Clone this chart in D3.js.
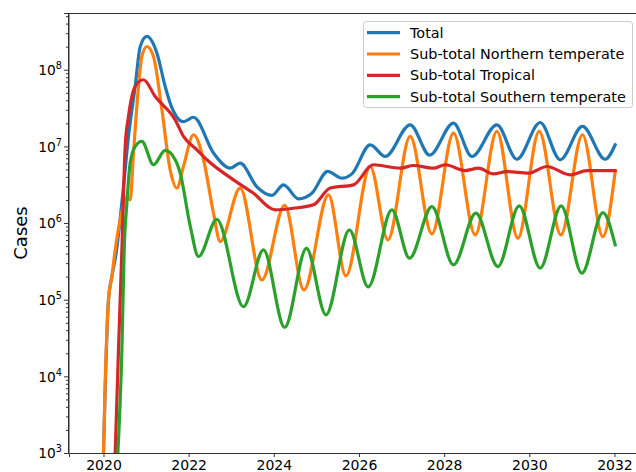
<!DOCTYPE html>
<html><head><meta charset="utf-8">
<script src="https://cdn.jsdelivr.net/npm/d3@7"></script>
<style>
body{margin:0;background:#fff;}
svg{display:block;font-family:"DejaVu Sans",sans-serif;}
</style></head>
<body><svg id="c" width="636" height="472"></svg>
<script>
const seriesNames = ["Total","Sub-total Northern temperate","Sub-total Tropical","Sub-total Southern temperate"];
const seriesColors = ["#1f77b4","#ff7f0e","#d62728","#2ca02c"];
const xTicks = [2020,2022,2024,2026,2028,2030,2032];
const yMajorTicks = [1e3,1e4,1e5,1e6,1e7,1e8];
const yLabel = "Cases";

const total = [[2020.0,1e3],[2020.117,9.9e4],[2020.197,2.0e5],[2020.298,4.08e5],[2020.47,2.99e6],[2020.587,1.35e7],[2020.744,6.05e7],[2020.862,2.0e8],[2021.019,2.72e8],[2021.254,1.65e8],[2021.449,6.05e7],[2021.566,3.67e7],[2021.879,2.1e7],[2022.114,2.4e7],[2022.583,8.2e6],[2022.976,5.2e6],[2023.21,6.05e6],[2023.603,2.97e6],[2023.955,2.3e6],[2024.227,3.15e6],[2024.58,2.07e6],[2024.894,2.45e6],[2025.265,4.73e6],[2025.599,3.85e6],[2025.834,4.38e6],[2026.264,1.05e7],[2026.616,7.4e6],[2027.203,1.91e7],[2027.66,7.7e6],[2028.22,2.01e7],[2028.652,7.4e6],[2029.239,1.91e7],[2029.709,6.8e6],[2030.256,2.05e7],[2030.726,6.7e6],[2031.249,1.82e7],[2031.783,6.8e6],[2032.017,1.05e7]];

const northern = [[2020.0,1e3],[2020.04,8.2e3],[2020.117,9.9e4],[2020.197,2.0e5],[2020.275,4.47e5],[2020.392,1.1e6],[2020.55,2.2e6],[2020.627,2.0e6],[2020.705,8.2e6],[2020.822,6.05e7],[2020.902,1.49e8],[2021.019,2.01e8],[2021.174,1.49e8],[2021.372,3.0e7],[2021.566,4.96e6],[2021.724,2.86e6],[2021.879,5.5e6],[2022.114,1.42e7],[2022.349,6.7e6],[2022.583,1.35e6],[2022.74,5.74e5],[2023.21,2.86e6],[2023.72,1.81e5],[2024.255,1.7e6],[2024.706,1.34e5],[2025.284,2.33e6],[2025.693,2.05e5],[2026.264,5.47e6],[2026.679,6.04e5],[2027.203,1.35e7],[2027.713,7.2e5],[2028.22,1.49e7],[2028.73,7.0e5],[2029.239,1.57e7],[2029.732,6.35e5],[2030.232,1.57e7],[2030.742,7.0e5],[2031.249,1.42e7],[2031.728,6.67e5],[2032.017,4.7e6]];

const tropical = [[2020.275,1e3],[2020.352,2.2e4],[2020.432,4.47e5],[2020.51,1.0e7],[2020.587,2.45e7],[2020.744,6.05e7],[2020.939,7.4e7],[2021.214,4.48e7],[2021.684,2.22e7],[2021.879,1.35e7],[2022.194,9.0e6],[2022.428,6.7e6],[2023.053,3.66e6],[2023.523,2.45e6],[2024.032,1.49e6],[2024.462,1.56e6],[2024.932,1.73e6],[2025.324,2.86e6],[2025.871,3.15e6],[2026.341,5.76e6],[2026.968,5.2e6],[2027.28,5.63e6],[2027.75,5.2e6],[2028.025,5.76e6],[2028.495,4.84e6],[2028.807,5.2e6],[2029.16,4.38e6],[2029.474,4.7e6],[2029.981,4.48e6],[2030.413,5.47e6],[2030.96,4.26e6],[2031.353,4.84e6],[2032.017,4.84e6]];

const southern = [[2020.338,1e3],[2020.432,2.2e4],[2020.486,4.47e5],[2020.55,1.84e6],[2020.627,6.1e6],[2020.744,1.0e7],[2020.902,1.16e7],[2021.174,5.76e6],[2021.449,8.85e6],[2021.684,6.7e6],[2021.801,4.48e6],[2022.036,9.2e5],[2022.231,3.66e5],[2022.663,1.12e6],[2023.288,8.1e4],[2023.757,4.47e5],[2024.255,4.35e4],[2024.767,4.68e5],[2025.225,6.34e4],[2025.775,8.15e5],[2026.217,1.47e5],[2026.773,1.49e6],[2027.187,3.48e5],[2027.713,1.64e6],[2028.22,2.85e5],[2028.746,1.35e6],[2029.262,2.7e5],[2029.763,1.68e6],[2030.256,2.58e5],[2030.749,1.68e6],[2031.235,2.22e5],[2031.728,1.37e6],[2032.017,5.19e5]];

const allSeries = [total, northern, tropical, southern];

const svg = d3.select("#c");
const L = 69, R = 640, T = 13, B = 453;
const x = d3.scaleLinear().domain([2019.19, 2032.6]).range([L, R]);
const y = d3.scaleLog().domain([1e3, 5.5e8]).range([B, T]);
const font = "DejaVu Sans";

svg.append("defs").append("clipPath").attr("id","clip")
  .append("rect").attr("x",L).attr("y",T).attr("width",R-L).attr("height",B-T);

const line = d3.line().x(d=>x(d[0])).y(d=>y(d[1])).curve(d3.curveMonotoneX);
const g = svg.append("g").attr("clip-path","url(#clip)");
allSeries.forEach((s,i)=>{
  g.append("path").datum(s).attr("d",line).attr("fill","none")
   .attr("stroke",seriesColors[i]).attr("stroke-width",3.2)
   .attr("stroke-linejoin","round").attr("stroke-linecap","square");
});

// spines
svg.append("line").attr("x1",L).attr("x2",R).attr("y1",T+0.5).attr("y2",T+0.5).attr("stroke","#333").attr("stroke-width",1);
svg.append("line").attr("x1",L-0.5).attr("x2",L-0.5).attr("y1",T).attr("y2",B).attr("stroke","#333").attr("stroke-width",1);

// x axis
const xa = svg.append("g").attr("transform",`translate(0,${B})`)
  .call(d3.axisBottom(x).tickValues(xTicks).tickFormat(d3.format("d")).tickSize(4).tickPadding(3));
xa.select(".domain").attr("stroke","#333");
xa.selectAll(".tick line").attr("stroke","#333");
xa.selectAll("text").attr("font-family",font).attr("font-size",14).attr("fill","#000");

// y axis majors
const ya = svg.append("g").attr("transform",`translate(${L-0.5},0)`)
  .call(d3.axisLeft(y).tickValues(yMajorTicks).tickFormat(()=>"").tickSize(4.5));
ya.select(".domain").attr("stroke","#333");
ya.selectAll(".tick line").attr("stroke","#333");
// minors
const minors = [];
for (let e=3;e<=8;e++) for (let m=2;m<=9;m++){ const v=m*Math.pow(10,e); if (v<=5.5e8) minors.push(v); }
const ym = svg.append("g").attr("transform",`translate(${L-0.5},0)`)
  .call(d3.axisLeft(y).tickValues(minors).tickFormat(()=>"").tickSize(2.5));
ym.select(".domain").remove();
ym.selectAll(".tick line").attr("stroke","#333");

// y tick labels with superscripts
yMajorTicks.forEach(v=>{
  const e = Math.round(Math.log10(v));
  const t = svg.append("text").attr("x",L-7).attr("y",y(v)+5.2)
    .attr("text-anchor","end").attr("font-family",font).attr("font-size",13.8).attr("fill","#000");
  t.append("tspan").text("10");
  t.append("tspan").attr("font-size",9.7).attr("dy",-6).text(String(e));
});

// y label
svg.append("text").attr("transform",`translate(26.5,${(T+B)/2}) rotate(-90)`)
  .attr("text-anchor","middle").attr("font-family",font).attr("font-size",18).attr("fill","#000").text(yLabel);

// legend
const lg = svg.append("g");
lg.append("rect").attr("x",363.5).attr("y",21.5).attr("width",269).attr("height",86).attr("rx",3)
  .attr("fill","#fff").attr("fill-opacity",0.8).attr("stroke","#cccccc").attr("stroke-width",1);
seriesNames.forEach((n,i)=>{
  const yy = 32.7 + i*21.3;
  lg.append("line").attr("x1",367).attr("x2",400).attr("y1",yy).attr("y2",yy)
    .attr("stroke",seriesColors[i]).attr("stroke-width",3.2);
  lg.append("text").attr("x",410).attr("y",yy+5).attr("font-family",font).attr("font-size",14.4)
    .attr("fill","#000").text(n);
});
</script></body></html>
